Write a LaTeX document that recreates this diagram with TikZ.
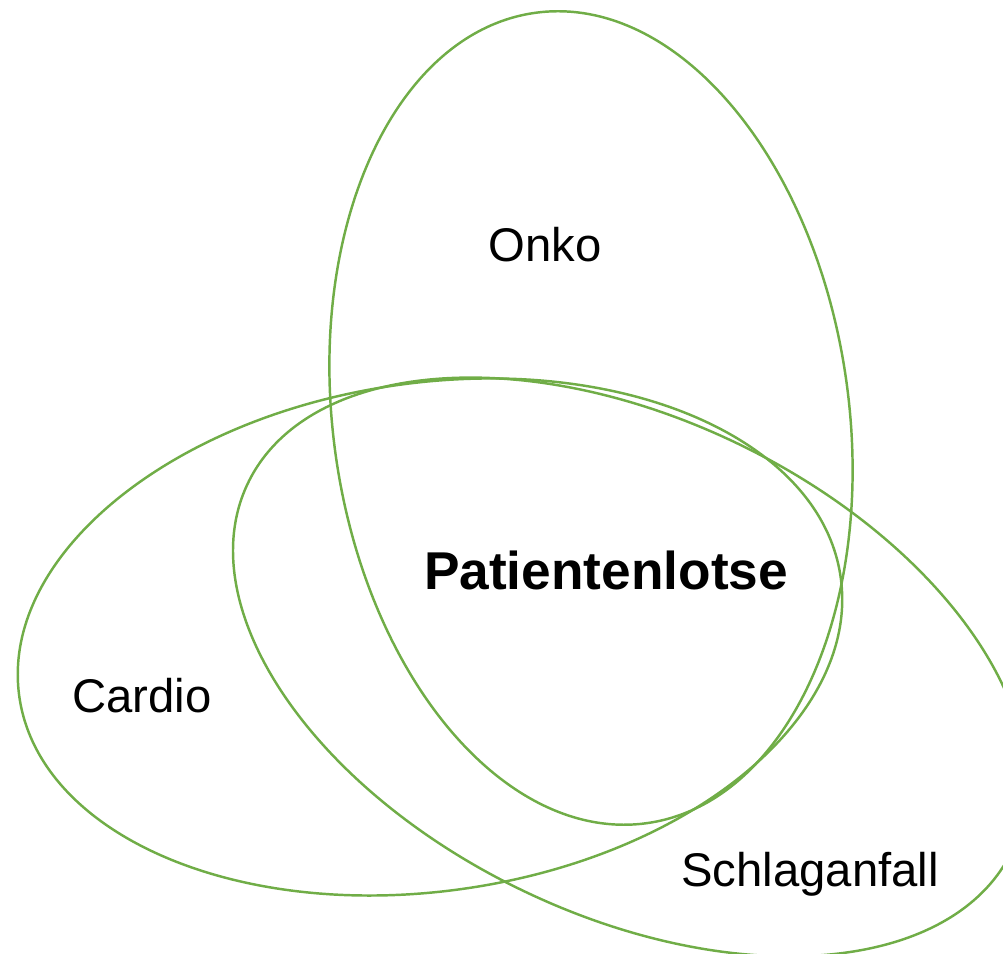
\documentclass[tikz,border=0pt]{standalone}
\usepackage{fontspec}
\setmainfont{Liberation Sans}
\usepackage{tikz}
\usetikzlibrary{positioning}
\definecolor{venngreen}{HTML}{70AD47}
\definecolor{txt}{HTML}{000000}

\begin{document}
\begin{tikzpicture}[
  x=0.02cm, y=-0.02cm,
  set/.style={draw=venngreen, line width=1.4pt},
  setlabel/.style={font=\fontsize{26.9}{32}\selectfont, text=txt, anchor=base, inner sep=0pt},
  corelabel/.style={font=\fontsize{30.3}{36}\selectfont\bfseries, text=txt, anchor=base, inner sep=0pt},
]
\useasboundingbox (0,0) rectangle (1003,953);
\clip (0,0) rectangle (1003,953);

\coordinate (onkoC) at (591,418);
\coordinate (cardioC) at (430,637);
\coordinate (schlagC) at (630,667);

\draw[set, rotate around={7.8:(onkoC)}] (onkoC) ellipse [x radius=258, y radius=409];
\draw[set, rotate around={8.4:(cardioC)}] (cardioC) ellipse [x radius=415, y radius=254];
\draw[set, rotate around={-25.7:(schlagC)}] (schlagC) ellipse [x radius=424, y radius=248];

\node[setlabel] (onko) at (545,261) {Onko};
\node[setlabel] (cardio) at (142,712) {Cardio};
\node[setlabel] (schlag) at (810,886) {Schlaganfall};
\node[corelabel] (lotse) at (606,589) {Patientenlotse};

\end{tikzpicture}
\end{document}
